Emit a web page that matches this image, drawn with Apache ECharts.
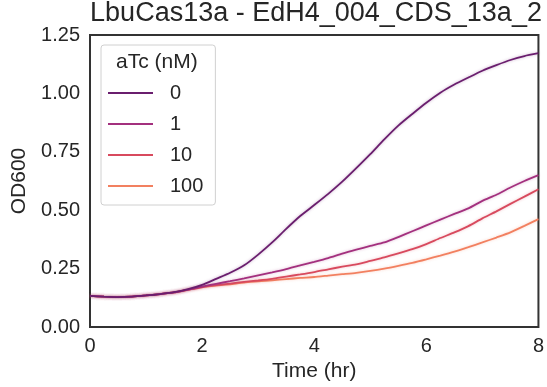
<!DOCTYPE html>
<html>
<head>
<meta charset="utf-8">
<script src="https://cdn.jsdelivr.net/npm/echarts@6/dist/echarts.min.js"></script>
<style>
  html, body { margin: 0; padding: 0; background: #fff; }
  #chart { width: 547px; height: 387px; }
</style>
</head>
<body>
<div id="chart"></div>
<script>
// time points (hr), every 15 min
const hours = [0, 0.25, 0.5, 0.75, 1, 1.25, 1.5, 1.75, 2, 2.25, 2.5, 2.75, 3, 3.25, 3.5, 3.75, 4,
               4.25, 4.5, 4.75, 5, 5.25, 5.5, 5.75, 6, 6.25, 6.5, 6.75, 7, 7.25, 7.5, 7.75, 8];

// OD600 per aTc concentration (nM)
const od_0 = [0.133, 0.130, 0.128, 0.130, 0.135, 0.141, 0.149, 0.162, 0.180, 0.206, 0.232, 0.264, 0.310,
              0.362, 0.420, 0.475, 0.522, 0.570, 0.622, 0.680, 0.740, 0.803, 0.862, 0.912, 0.960,
              1.003, 1.038, 1.068, 1.097, 1.121, 1.143, 1.160, 1.172];
const od_1 = [0.133, 0.130, 0.128, 0.130, 0.135, 0.141, 0.148, 0.160, 0.173, 0.185, 0.196, 0.208, 0.221,
              0.234, 0.248, 0.264, 0.279, 0.295, 0.314, 0.331, 0.347, 0.362, 0.385, 0.410, 0.435,
              0.460, 0.484, 0.508, 0.540, 0.566, 0.597, 0.625, 0.650];
const od_10 = [0.133, 0.130, 0.128, 0.130, 0.135, 0.141, 0.148, 0.160, 0.171, 0.179, 0.186, 0.193, 0.199,
               0.206, 0.216, 0.225, 0.235, 0.247, 0.258, 0.268, 0.283, 0.298, 0.315, 0.333, 0.355,
               0.381, 0.405, 0.432, 0.465, 0.495, 0.527, 0.558, 0.590];
const od_100 = [0.133, 0.130, 0.128, 0.130, 0.135, 0.141, 0.148, 0.159, 0.170, 0.177, 0.183, 0.190, 0.195,
                0.200, 0.205, 0.210, 0.214, 0.220, 0.226, 0.232, 0.240, 0.250, 0.262, 0.275, 0.290,
                0.306, 0.323, 0.342, 0.362, 0.383, 0.405, 0.433, 0.462];

const names = ['0', '1', '10', '100'];
const colors = ['#6a1e6e', '#a3307e', '#d84a5e', '#f28060'];
const seriesData = [od_0, od_1, od_10, od_100];

const font = 'Liberation Sans, Arial, sans-serif';
const textColor = '#262626';

const chart = echarts.init(document.getElementById('chart'));

const series = seriesData.map((vals, i) => ({
    name: names[i],
    type: 'line',
    data: hours.map((h, j) => [h, vals[j]]),
    smooth: 0.2,
    showSymbol: false,
    symbol: 'none',
    lineStyle: {
        color: colors[i],
        width: 1.8,
        shadowColor: echarts.color.modifyAlpha(colors[i], 0.35),
        shadowBlur: 3
    },
    itemStyle: { color: colors[i] },
    z: 10 - i
}));

chart.setOption({
    backgroundColor: '#fff',
    animation: false,
    title: {
        text: 'LbuCas13a - EdH4_004_CDS_13a_2',
        left: 316,
        textAlign: 'center',
        top: 0,
        padding: 0,
        textStyle: { fontFamily: font, fontSize: 27, lineHeight: 28, fontWeight: 'normal', color: textColor }
    },
    grid: {
        left: 90,
        right: 5,
        top: 35,
        bottom: 59,
        show: true,
        borderColor: '#333',
        borderWidth: 2,
        backgroundColor: '#fff'
    },
    legend: {
        orient: 'vertical',
        left: 101,
        top: 45,
        padding: [38, 12, 9, 7],
        itemGap: 11,
        itemWidth: 45,
        itemHeight: 2,
        icon: 'rect',
        borderColor: '#d0d0d0',
        borderWidth: 1,
        borderRadius: 3,
        backgroundColor: 'rgba(255,255,255,0.8)',
        textStyle: { fontFamily: font, fontSize: 20, color: textColor, padding: [0, 0, 0, 12], lineHeight: 20 },
        data: names
    },
    graphic: [{
        type: 'text',
        left: 116,
        top: 52,
        z: 100,
        style: { text: 'aTc (nM)', font: '21px ' + font, fill: textColor }
    }],
    xAxis: {
        type: 'value',
        min: 0,
        max: 8,
        interval: 2,
        name: 'Time (hr)',
        nameLocation: 'middle',
        nameGap: 34,
        nameTextStyle: { fontFamily: font, fontSize: 21, color: textColor },
        axisLine: { show: false },
        axisTick: { show: false },
        splitLine: { show: false },
        axisLabel: { fontFamily: font, fontSize: 20, color: textColor, margin: 9 }
    },
    yAxis: {
        type: 'value',
        min: 0,
        max: 1.25,
        interval: 0.25,
        name: 'OD600',
        nameLocation: 'middle',
        nameGap: 57,
        nameTextStyle: { fontFamily: font, fontSize: 21, color: textColor },
        axisLine: { show: false },
        axisTick: { show: false },
        splitLine: { show: false },
        axisLabel: {
            fontFamily: font, fontSize: 20, color: textColor, margin: 10,
            formatter: v => v.toFixed(2)
        }
    },
    series: series
});
</script>
</body>
</html>
